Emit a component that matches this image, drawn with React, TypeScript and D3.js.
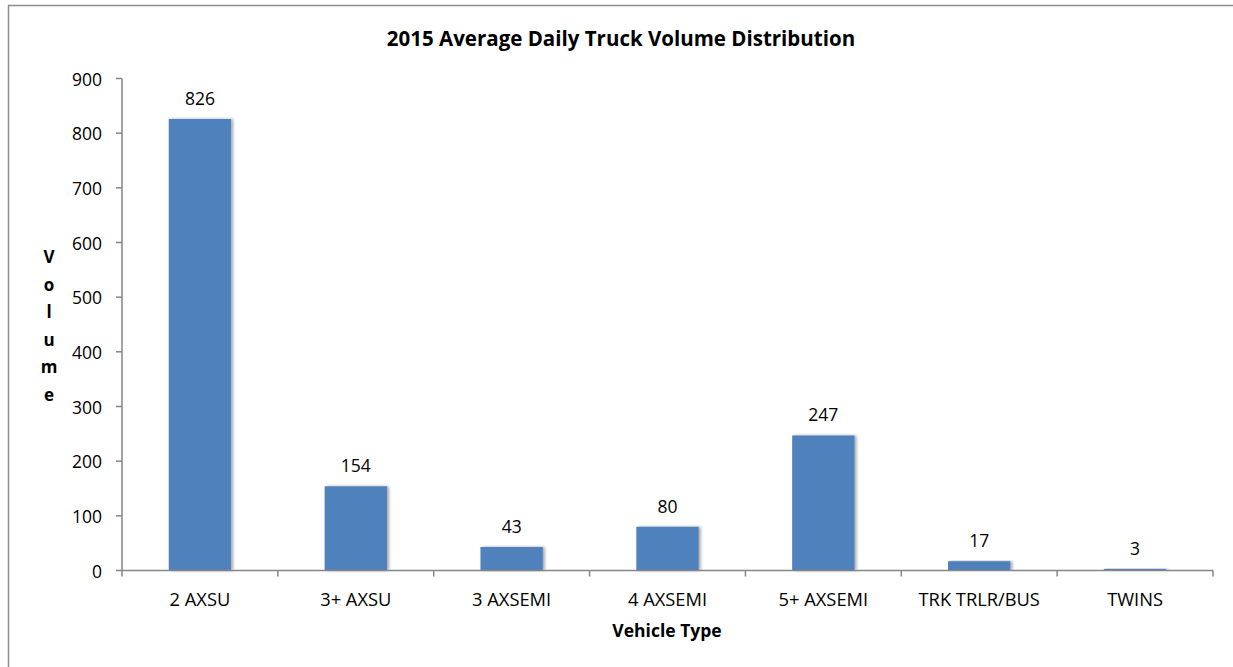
import React from 'react';
import * as d3 from 'd3';

const categories = ['2 AXSU', '3+ AXSU', '3 AXSEMI', '4 AXSEMI', '5+ AXSEMI', 'TRK TRLR/BUS', 'TWINS'];
const volumes = [826, 154, 43, 80, 247, 17, 3];
const yTicks = [0, 100, 200, 300, 400, 500, 600, 700, 800, 900];
const yLabelLetters = ['V', 'o', 'l', 'u', 'm', 'e'];

const W = 1233;
const H = 667;
const margin = { left: 122, right: 20, top: 78.5, bottom: 96.5 };
const font = '"Open Sans", Lato, sans-serif';

export default function App() {
  const x = d3
    .scaleBand()
    .domain(categories)
    .range([margin.left, 1213])
    .paddingInner(0.6)
    .paddingOuter(0.3);

  const y = d3
    .scaleLinear()
    .domain([0, 900])
    .range([H - margin.bottom, margin.top]);

  // band boundaries for the x ticks
  const boundaries = d3.range(0, categories.length + 1).map(i => margin.left + i * (1091 / categories.length));

  return (
    <svg
      width={W}
      height={H}
      style={{ position: 'absolute', left: 0, top: 0, background: 'white', fontFamily: font }}
    >
      <defs>
        <filter id="shadow" x="-20%" y="-5%" width="140%" height="110%">
          <feGaussianBlur in="SourceAlpha" stdDeviation="1.5" />
          <feOffset dx="2" dy="0" result="b" />
          <feComponentTransfer>
            <feFuncA type="linear" slope="0.35" />
          </feComponentTransfer>
          <feMerge>
            <feMergeNode />
            <feMergeNode in="SourceGraphic" />
          </feMerge>
        </filter>
      </defs>

      {/* chart area border (only top/left visible) */}
      <line x1={8} x2={W} y1={5.5} y2={5.5} stroke="#8c8c8c" strokeWidth={1.5} />
      <line x1={8.5} x2={8.5} y1={5} y2={H} stroke="#8c8c8c" strokeWidth={1.5} />

      <text x={621} y={46} textAnchor="middle" fontSize={20.5} fontWeight="bold" fill="#000">
        2015 Average Daily Truck Volume Distribution
      </text>

      {/* bars */}
      {volumes.map((v, i) => (
        <g key={categories[i]}>
          <rect
            x={x(categories[i])}
            y={y(v)}
            width={x.bandwidth()}
            height={y(0) - y(v)}
            fill="#4F81BD"
            filter="url(#shadow)"
          />
          <text
            x={x(categories[i])! + x.bandwidth() / 2}
            y={y(v) - 14}
            textAnchor="middle"
            fontSize={17.5}
            fill="#000"
          >
            {v}
          </text>
        </g>
      ))}

      {/* y axis */}
      <line x1={margin.left} x2={margin.left} y1={y(900)} y2={y(0)} stroke="#868686" strokeWidth={1.5} />
      {yTicks.map(t => (
        <g key={t}>
          <line x1={margin.left - 6} x2={margin.left} y1={y(t)} y2={y(t)} stroke="#868686" strokeWidth={1.5} />
          <text x={margin.left - 20} y={y(t) + 7} textAnchor="end" fontSize={17.5} fill="#000">
            {t}
          </text>
        </g>
      ))}

      {/* x axis */}
      <line x1={margin.left} x2={1213} y1={y(0)} y2={y(0)} stroke="#868686" strokeWidth={1.5} />
      {boundaries.map((b, i) => (
        <line key={i} x1={b} x2={b} y1={y(0)} y2={y(0) + 6} stroke="#868686" strokeWidth={1.5} />
      ))}
      {categories.map(c => (
        <text key={c} x={x(c)! + x.bandwidth() / 2} y={606} textAnchor="middle" fontSize={18.3} fill="#000">
          {c}
        </text>
      ))}

      <text x={667} y={637} textAnchor="middle" fontSize={17.5} fontWeight="bold" fill="#000">
        Vehicle Type
      </text>

      {yLabelLetters.map((l, i) => (
        <text key={i} x={49} y={263 + i * 27.5} textAnchor="middle" fontSize={17} fontWeight="bold" fill="#000">
          {l}
        </text>
      ))}
    </svg>
  );
}
